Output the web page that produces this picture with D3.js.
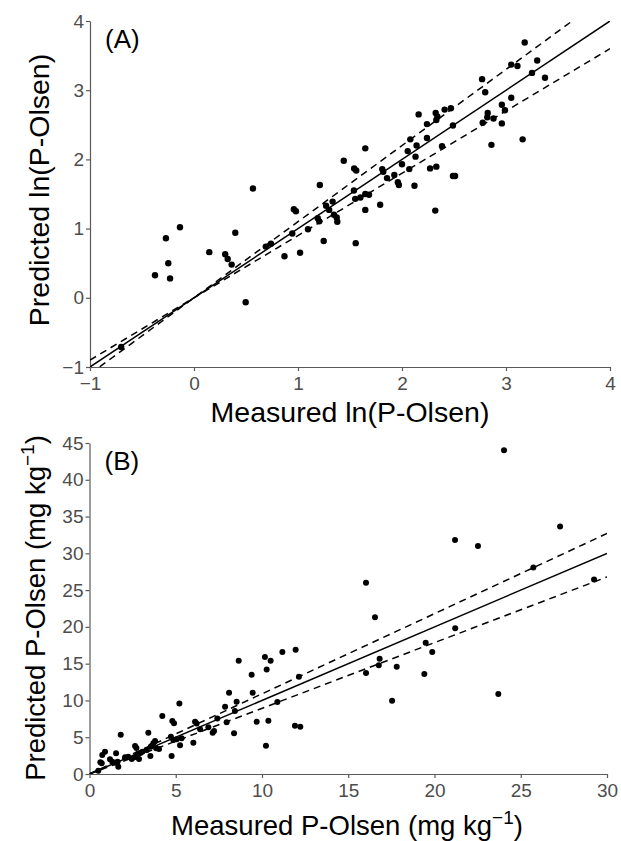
<!DOCTYPE html>
<html><head><meta charset="utf-8">
<script src="https://cdn.jsdelivr.net/npm/d3@7"></script>
<style>
body{margin:0;background:#fff;}
svg{display:block;font-family:"Liberation Sans",Arial,sans-serif;}
</style></head>
<body>
<svg id="chart" width="621" height="841"></svg>
<script>
// ---------- Data ----------
const measuredLnA = [-0.70,-0.375,-0.27,-0.247,-0.23,-0.135,0.147,0.30,0.324,0.362,0.397,0.497,0.567,0.69,0.74,0.87,0.945,0.96,0.98,1.02,1.096,1.21,1.19,1.205,1.247,1.27,1.30,1.333,1.346,1.372,1.378,1.555,1.44,1.538,1.55,1.60,1.647,1.683,1.647,1.647,1.54,1.56,1.79,1.81,1.82,1.856,1.926,1.96,1.97,2.0,2.055,2.08,2.07,2.13,2.14,2.12,2.16,2.24,2.24,2.27,2.32,2.324,2.34,2.33,2.33,2.41,2.47,2.49,2.385,2.49,2.51,2.77,2.80,2.776,2.824,2.82,2.88,2.86,2.96,2.99,2.96,3.05,3.05,3.11,3.18,3.16,3.25,3.30,3.375];
const predictedLnA = [-0.71,0.325,0.86,0.50,0.28,1.02,0.66,0.63,0.56,0.48,0.94,-0.065,1.58,0.74,0.78,0.60,0.93,1.28,1.25,0.65,0.99,1.63,1.15,1.105,0.82,1.33,1.27,1.39,1.20,1.16,1.10,0.79,1.98,1.55,1.43,1.45,1.50,1.49,1.27,2.16,1.87,1.84,1.345,1.86,1.82,1.73,1.775,1.67,1.63,1.93,2.12,2.29,1.86,2.04,2.20,1.62,2.65,2.51,2.31,1.87,1.26,2.67,2.62,2.57,1.895,2.72,2.74,2.49,2.19,1.76,1.76,3.16,2.97,2.53,2.67,2.61,2.59,2.21,2.79,2.71,2.52,2.89,3.37,3.35,3.69,2.29,3.25,3.43,3.18];

const measuredB = [0.51,0.63,0.71,0.74,0.90,1.19,1.32,1.48,1.54,1.63,1.67,1.81,2.06,2.25,2.45,2.6,2.64,2.72,2.79,2.87,3.06,2.95,3.32,3.41,3.53,3.55,3.6,3.7,3.80,3.86,4.03,4.22,4.72,4.80,4.90,4.76,4.86,5.05,5.34,5.21,5.25,6.02,6.12,6.21,6.41,6.89,7.14,7.22,7.41,7.86,7.95,8.09,8.38,8.43,8.53,8.65,9.40,9.46,9.69,10.17,10.5,10.27,10.37,10.23,10.89,11.18,11.95,12.14,11.91,12.22,16.03,16.55,16.03,16.82,16.77,17.81,17.54,19.49,19.87,19.41,21.2,21.19,22.52,23.7,24.03,25.73,27.28,29.25];
const predictedB = [0.45,1.6,1.45,2.58,3.03,2.0,1.67,1.54,2.81,1.67,0.99,5.35,2.27,2.35,2.04,2.27,3.8,3.55,2.72,2.04,3.03,2.85,3.26,5.61,2.45,3.7,3.8,4.17,4.48,3.49,3.4,7.88,5.07,7.2,6.89,2.45,4.62,4.71,4.85,9.6,3.9,4.26,7.1,6.88,6.07,6.34,5.61,5.84,7.56,9.15,7.02,11.05,5.53,8.56,9.83,15.4,13.5,11.05,7.1,15.9,15.4,14.2,7.25,3.85,9.78,16.6,16.9,13.22,6.57,6.43,26.0,21.3,13.72,15.67,14.8,14.58,9.96,17.84,16.6,13.59,19.8,31.8,31.0,10.87,44.0,28.08,33.65,26.45];

const xTicksA = [-1,0,1,2,3,4];
const yTicksA = [-1,0,1,2,3,4];
const xTicksB = [0,5,10,15,20,25,30];
const yTicksB = [0,5,10,15,20,25,30,35,40,45];

const fitSlopes = [1];            // fitted line (1:1)
const bandSlopesA = [1.1, 0.9];   // dashed bands, panel A
const bandSlopesB = [1.09, 0.893];// dashed bands, panel B

const labelA = "(A)", labelB = "(B)";
const xTitleA = "Measured ln(P-Olsen)", yTitleA = "Predicted ln(P-Olsen)";

// ---------- Drawing ----------
const svg = d3.select("#chart");
const axisColor = "#5a5a5a";
const tickColor = "#4d4d4d";
const tf = '"Liberation Sans", Arial, sans-serif';

function panel(cfg){
  const g = svg.append("g");
  const x = d3.scaleLinear().domain(cfg.xDomain).range([cfg.left, cfg.right]);
  const y = d3.scaleLinear().domain(cfg.yDomain).range([cfg.bottom, cfg.top]);

  const clipId = "clip" + cfg.id;
  svg.append("clipPath").attr("id", clipId).append("rect")
    .attr("x", cfg.left).attr("y", cfg.top)
    .attr("width", cfg.right - cfg.left).attr("height", cfg.bottom - cfg.top);

  const fmt = d3.format("d");
  const xAxis = d3.axisBottom(x).tickValues(cfg.xTicks).tickFormat(fmt).tickSize(4).tickPadding(3).tickSizeOuter(0);
  const yAxis = d3.axisLeft(y).tickValues(cfg.yTicks).tickFormat(fmt).tickSize(4).tickPadding(2).tickSizeOuter(0);

  const gx = g.append("g").attr("transform", `translate(0,${cfg.bottom})`).call(xAxis);
  const gy = g.append("g").attr("transform", `translate(${cfg.left},0)`).call(yAxis);
  [gx, gy].forEach(a => {
    a.select(".domain").attr("stroke", axisColor).attr("stroke-width", 1.2);
    a.selectAll(".tick line").attr("stroke", axisColor).attr("stroke-width", 1.2);
    a.selectAll(".tick text").attr("fill", tickColor).style("font-size", "19px")
      .style("font-family", tf);
  });
  gx.selectAll(".tick text").attr("dy", "0.85em");

  const lines = g.append("g").attr("clip-path", `url(#${clipId})`);
  const xd = cfg.xDomain;
  const mk = s => xd.map(v => [v, s * v]);
  const lineGen = d3.line().x(d => x(d[0])).y(d => y(d[1]));
  fitSlopes.forEach(s => {
    lines.append("path").attr("d", lineGen(mk(s)))
      .attr("fill", "none").attr("stroke", "#000").attr("stroke-width", 1.5);
  });
  cfg.bands.forEach(s => {
    lines.append("path").attr("d", lineGen(mk(s)))
      .attr("fill", "none").attr("stroke", "#000").attr("stroke-width", 1.5)
      .attr("stroke-dasharray", "7,5");
  });

  g.append("g").selectAll("circle").data(cfg.xs.map((v,i)=>[v, cfg.ys[i]]))
    .join("circle").attr("cx", d => x(d[0])).attr("cy", d => y(d[1]))
    .attr("r", cfg.r).attr("fill", "#000");

  g.append("text").attr("x", cfg.left + 15).attr("y", cfg.labelY)
    .style("font-size", "26px").style("font-family", tf).attr("fill", "#000").text(cfg.label);

  return g;
}

panel({id:"A", xDomain:[-1,4], yDomain:[-1,4], left:90, right:610, top:21, bottom:367,
  xTicks:xTicksA, yTicks:yTicksA, bands:bandSlopesA, xs:measuredLnA, ys:predictedLnA, r:3.2,
  label:labelA, labelY:48});
panel({id:"B", xDomain:[0,30], yDomain:[0,45], left:89.5, right:607, top:443, bottom:774,
  xTicks:xTicksB, yTicks:yTicksB, bands:bandSlopesB, xs:measuredB, ys:predictedB, r:3,
  label:labelB, labelY:470});

// axis titles
svg.append("text").attr("x", 350).attr("y", 422).attr("text-anchor","middle")
  .style("font-size","28.5px").style("font-family", tf).text(xTitleA);
svg.append("text").attr("transform","translate(49,190) rotate(-90)").attr("text-anchor","middle")
  .style("font-size","28.5px").style("font-family", tf).text(yTitleA);

const xtB = svg.append("text").attr("x", 347).attr("y", 835).attr("text-anchor","middle")
  .style("font-size","27.5px").style("font-family", tf);
xtB.append("tspan").text("Measured P-Olsen (mg kg");
xtB.append("tspan").attr("dy","-11").style("font-size","19px").text("\u22121");
xtB.append("tspan").attr("dy","11").text(")");

const ytB = svg.append("text").attr("transform","translate(45,608) rotate(-90)").attr("text-anchor","middle")
  .style("font-size","27.5px").style("font-family", tf);
ytB.append("tspan").text("Predicted P-Olsen (mg kg");
ytB.append("tspan").attr("dy","-11").style("font-size","19px").text("\u22121");
ytB.append("tspan").attr("dy","11").text(")");
</script>
</body></html>
